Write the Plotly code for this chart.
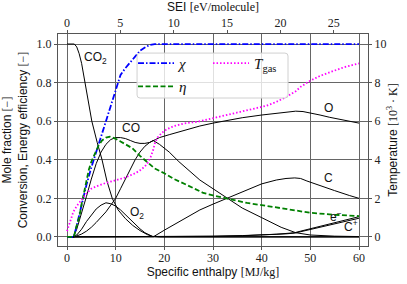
import plotly.graph_objects as go

# ---------------- data ----------------
# specific enthalpy [MJ/kg] and mole fractions of species
co2_x = [0, 1.5, 2.0, 2.5, 3.0, 3.7, 4.4, 5.1, 6.2, 7.2, 8.2, 9.3, 10.5, 12, 13.5, 15, 16.5, 17.5, 19, 25, 60]
co2_y = [1.0, 1.0, 0.985, 0.95, 0.90, 0.80, 0.70, 0.60, 0.49, 0.40, 0.29, 0.20, 0.14, 0.095, 0.06, 0.033, 0.012, 0.003, 0.0, 0.0, 0.0]

co_x = [0, 1.3, 2, 3, 4, 5, 6, 7, 8, 9, 10, 11, 12, 13, 14, 15, 16, 17, 17.7, 19, 21, 23, 25, 27.3, 30, 32.9, 36, 40, 44, 47, 50, 55, 60]
co_y = [0, 0, 0.04, 0.12, 0.21, 0.30, 0.38, 0.44, 0.48, 0.505, 0.515, 0.515, 0.51, 0.50, 0.49, 0.485, 0.485, 0.49, 0.50, 0.48, 0.44, 0.39, 0.345, 0.295, 0.25, 0.20, 0.15, 0.10, 0.05, 0.022, 0.01, 0.004, 0.002]

o_x = [0, 1.5, 2, 3, 4, 5, 6, 7, 8, 9, 10, 11, 12, 13, 14, 15, 16, 17, 17.7, 19, 21, 23, 25, 27.3, 30, 33, 36, 40, 43, 45, 47, 48.5, 50, 52, 54, 56, 58, 60]
o_y = [0, 0, 0.005, 0.015, 0.03, 0.05, 0.075, 0.10, 0.13, 0.165, 0.20, 0.25, 0.30, 0.35, 0.40, 0.44, 0.47, 0.49, 0.50, 0.515, 0.53, 0.545, 0.56, 0.575, 0.59, 0.605, 0.618, 0.632, 0.642, 0.648, 0.652, 0.65, 0.643, 0.632, 0.62, 0.61, 0.60, 0.59]

o2_x = [0, 1.3, 2, 3, 4, 5, 6, 7, 8, 9, 10, 11, 12, 13, 14, 15, 16, 17, 17.7, 20, 60]
o2_y = [0, 0, 0.01, 0.04, 0.08, 0.115, 0.145, 0.165, 0.177, 0.172, 0.16, 0.14, 0.115, 0.09, 0.065, 0.042, 0.022, 0.007, 0.001, 0, 0]

c_x = [0, 17.7, 20, 22, 24, 27.3, 30, 32.9, 36, 40, 43, 45, 46.8, 48, 49.3, 52, 55, 58, 60]
c_y = [0, 0, 0.035, 0.065, 0.095, 0.14, 0.17, 0.20, 0.235, 0.275, 0.295, 0.303, 0.306, 0.303, 0.29, 0.265, 0.24, 0.215, 0.2]

em_x = [0, 20, 30, 36, 40, 43, 45, 46.8, 48, 50, 52, 54, 56, 58, 60]
em_y = [0, 0.001, 0.004, 0.007, 0.01, 0.014, 0.018, 0.022, 0.03, 0.042, 0.054, 0.066, 0.079, 0.092, 0.105]

cp_x = [0, 20, 30, 36, 40, 43, 45, 46.8, 48, 50, 52, 54, 56, 58, 60]
cp_y = [0, 0.001, 0.003, 0.006, 0.009, 0.012, 0.016, 0.02, 0.027, 0.038, 0.049, 0.06, 0.072, 0.084, 0.097]

# conversion chi and energy efficiency eta
chi_x = [0, 1.4, 2, 3, 4, 5, 6, 7, 8, 9, 10, 11, 12, 13, 14, 15, 16, 17, 18, 20, 60]
chi_y = [0, 0, 0.06, 0.17, 0.27, 0.36, 0.44, 0.52, 0.60, 0.69, 0.77, 0.84, 0.875, 0.905, 0.94, 0.965, 0.982, 0.995, 1.0, 1.0, 1.0]

eta_x = [0, 1.4, 2, 2.5, 3, 3.5, 4, 4.5, 5, 5.8, 6.5, 7.2, 8, 8.8, 9.9, 11, 12, 13.4, 15, 16.6, 18, 20, 22, 25, 28, 30, 33, 37, 40, 45, 50, 55, 60]
eta_y = [0, 0, 0.06, 0.10, 0.17, 0.23, 0.29, 0.35, 0.39, 0.44, 0.475, 0.50, 0.515, 0.52, 0.51, 0.495, 0.48, 0.46, 0.42, 0.385, 0.355, 0.33, 0.30, 0.265, 0.228, 0.215, 0.198, 0.176, 0.165, 0.145, 0.125, 0.115, 0.108]

# gas temperature [10^3 K]
tgas_x = [0, 0.7, 1.3, 2, 3, 4, 5, 6, 8, 10, 12, 14, 15, 16, 16.6, 17.2, 17.7, 18.1, 18.6, 19.5, 20.5, 22, 24, 27, 30, 34, 38, 41, 43, 45, 47, 48, 50, 52, 54.7, 57, 60]
tgas_y = [0.3, 0.88, 1.3, 1.6, 1.95, 2.25, 2.5, 2.62, 2.8, 2.95, 3.08, 3.3, 3.45, 3.65, 3.85, 4.15, 4.5, 4.9, 5.15, 5.4, 5.58, 5.75, 5.88, 5.98, 6.15, 6.4, 6.6, 6.8, 7.0, 7.25, 7.55, 7.78, 8.1, 8.35, 8.6, 8.8, 9.0]

# axis ticks
x_ticks = [0, 10, 20, 30, 40, 50, 60]
sei_ticks = [0, 5, 10, 15, 20, 25]
y_ticks = [0.0, 0.2, 0.4, 0.6, 0.8, 1.0]
y_ticklabels = ["0.0", "0.2", "0.4", "0.6", "0.8", "1.0"]
t_ticks = [0, 2, 4, 6, 8, 10]

MJKG_PER_EV = 2.1925  # 1 eV/molecule of CO2 in MJ/kg

species = [
    ("CO2", co2_x, co2_y), ("CO", co_x, co_y), ("O", o_x, o_y), ("O2", o2_x, o2_y),
    ("C", c_x, c_y), ("e-", em_x, em_y), ("C+", cp_x, cp_y),
]
species_labels = [
    ("CO<sub>2</sub>", 5.9, 0.93), ("CO", 13.1, 0.565), ("O<sub>2</sub>", 14.4, 0.125),
    ("O", 53.8, 0.67), ("C", 53.8, 0.305), ("e<sup>−</sup>", 55.3, 0.11), ("C<sup>+</sup>", 58.4, 0.055),
]

SERIF = "Liberation Serif"
SANS = "Liberation Sans"

def serif(t):
    return f"<span style=\"font-family:'{SERIF}'\">{t}</span>"

fig = go.Figure()
for name, xs, ys in species:
    fig.add_trace(go.Scatter(x=xs, y=ys, mode="lines", name=name, showlegend=False,
                             line=dict(color="black", width=1)))

fig.add_trace(go.Scatter(x=chi_x, y=chi_y, mode="lines", name="<i>χ</i>", legend="legend",
                         line=dict(color="#0000ff", width=1.8, dash="6px,2px,1.5px,2px")))
fig.add_trace(go.Scatter(x=eta_x, y=eta_y, mode="lines", name="<i>η</i>", legend="legend3",
                         line=dict(color="#008000", width=1.8, dash="5px,2.5px")))
fig.add_trace(go.Scatter(x=tgas_x, y=tgas_y, mode="lines", name="<i>T</i><sub>gas</sub>", legend="legend2",
                         yaxis="y2", line=dict(color="#ff00ff", width=1.8, dash="1.5px,2px")))
# invisible trace to create top SEI axis
fig.add_trace(go.Scatter(x=[sei_ticks[0], sei_ticks[-1]], y=[None, None], xaxis="x2", yaxis="y",
                         showlegend=False, hoverinfo="skip", mode="lines"))

for txt, lx, ly in species_labels:
    fig.add_annotation(x=lx, y=ly, text=txt, showarrow=False, xref="x", yref="y",
                       font=dict(family=SANS, size=12, color="#111"))

# legend frame
x0, x1, y0, y1 = 0.255, 0.742, 0.698, 0.910
rx, ry = 0.010, 0.014
path = (f"M {x0+rx},{y0} L {x1-rx},{y0} Q {x1},{y0} {x1},{y0+ry} L {x1},{y1-ry} Q {x1},{y1} {x1-rx},{y1} "
        f"L {x0+rx},{y1} Q {x0},{y1} {x0},{y1-ry} L {x0},{y0+ry} Q {x0},{y0} {x0+rx},{y0} Z")
fig.add_shape(type="path", path=path, xref="paper", yref="paper", layer="above",
              line=dict(color="#d0d0d0", width=1), fillcolor="rgba(255,255,255,0.8)")

xr = [-1.85, 61.85]
yr = [-0.047, 1.052]
grid = "#666666"
axline = "#555555"
tickfont = dict(family=SERIF, size=12, color="#222")
titlefont = dict(family=SANS, size=12, color="#111")
legfont = dict(family=SERIF, size=15, color="#111")

fig.update_layout(
    width=407, height=284,
    margin=dict(l=58, r=39, t=34, b=38, autoexpand=False),
    paper_bgcolor="white", plot_bgcolor="white",
    hovermode=False,
    xaxis=dict(range=xr, tickvals=x_ticks, ticks="outside", ticklen=3, tickcolor=axline,
               showline=True, linecolor=axline, linewidth=1, mirror=False, automargin=False,
               showgrid=True, gridcolor=grid, gridwidth=0.8, zeroline=False,
               tickfont=tickfont, ticklabelstandoff=-2,
               title=dict(text="Specific enthalpy " + serif("[MJ/kg]"), font=titlefont, standoff=0)),
    xaxis2=dict(range=[xr[0] / MJKG_PER_EV, xr[1] / MJKG_PER_EV], overlaying="x", side="top",
                tickvals=sei_ticks, ticks="outside", ticklen=3, tickcolor=axline, automargin=False,
                showline=True, linecolor=axline, linewidth=1, showgrid=False, zeroline=False,
                tickfont=tickfont, ticklabelstandoff=-2,
                title=dict(text="SEI " + serif("[eV/molecule]"), font=titlefont, standoff=3)),
    yaxis=dict(range=yr, tickvals=y_ticks, ticktext=y_ticklabels, ticks="outside", ticklen=3,
               tickcolor=axline, showline=True, linecolor=axline, linewidth=1, automargin=False,
               showgrid=True, gridcolor=grid, gridwidth=0.8, zeroline=False, tickfont=tickfont,
               title=dict(text="Mole fraction " + serif("[−]") + "<br>Conversion, Energy efficiency " + serif("[−]"),
                          font=titlefont, standoff=6)),
    yaxis2=dict(range=[yr[0] * 10, yr[1] * 10], overlaying="y", side="right", tickvals=t_ticks,
                ticks="outside", ticklen=3, tickcolor=axline, showline=True, linecolor=axline,
                linewidth=1, showgrid=False, zeroline=False, tickfont=tickfont, automargin=False,
                title=dict(text="Temperature " + serif("[10<sup>3</sup> · K]"), font=titlefont, standoff=3)),
    legend=dict(x=0.242, y=0.939, xanchor="left", yanchor="top", bgcolor="rgba(0,0,0,0)",
                borderwidth=0, font=legfont, itemwidth=36),
    legend3=dict(x=0.242, y=0.830, xanchor="left", yanchor="top", bgcolor="rgba(0,0,0,0)",
                 borderwidth=0, font=legfont, itemwidth=36),
    legend2=dict(x=0.484, y=0.939, xanchor="left", yanchor="top", bgcolor="rgba(0,0,0,0)",
                 borderwidth=0, font=legfont, itemwidth=36),
    showlegend=True,
)

fig.write_html("out.html", config={"displayModeBar": False, "staticPlot": False},
               post_script="document.body.style.margin='0px';")
